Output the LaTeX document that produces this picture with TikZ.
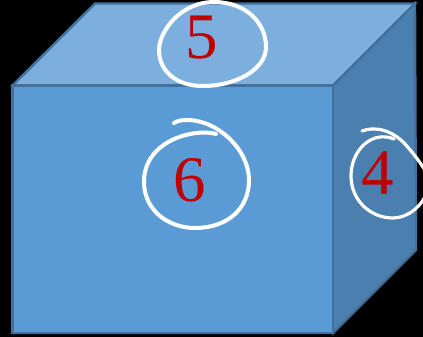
\documentclass[tikz,border=0pt]{standalone}
\usepackage{fontspec}
\setmainfont{Liberation Serif}
\definecolor{frontc}{HTML}{5B9BD5}
\definecolor{topc}{HTML}{7CAFDE}
\definecolor{sidec}{HTML}{4A7FAF}
\definecolor{edgec}{HTML}{41719C}
\definecolor{digitc}{HTML}{C00000}
\tikzset{
  face/.style={draw=edgec,line width=2.4pt,line join=miter},
  scribble/.style={draw=white,line width=4pt,line cap=round,line join=round},
  digit/.style={text=digitc,font=\fontsize{65}{65}\selectfont,inner sep=0pt}
}
\begin{document}
\begin{tikzpicture}[x=1pt,y=-1pt]
\useasboundingbox (0,0) rectangle (423,337);
\clip (0,0) rectangle (423,337);
\fill[black] (0,0) rectangle (423,337);
\draw[face,fill=topc] (12.5,85.5) -- (95,3.5) -- (415,3.5) -- (333,85.5) -- cycle;
\draw[face,fill=sidec] (333,85.5) -- (415,3.5) -- (416,250) -- (333,333) -- cycle;
\draw[face,fill=frontc] (12.5,85.5) rectangle (333,333);
\node[digit] (five) at (202,38) {5};
\node[digit] (six) at (190,180) {6};
\node[digit] (four) at (378,173.5) {4};
\draw[scribble] (214,2) .. controls (245,2) and (266,22) .. (266,47)
  .. controls (266,70) and (235,86) .. (203,86)
  .. controls (175,86) and (159,70) .. (159,50)
  .. controls (159,32) and (180,2) .. (214,2) -- cycle;
\draw[scribble] (216,134) .. controls (195,128) and (144,140) .. (144,182)
  .. controls (144,210) and (168,228) .. (195,228)
  .. controls (226,228) and (249,210) .. (249,180)
  .. controls (249,150) and (218,120) .. (187,120)
  .. controls (181,120) and (177,121) .. (174,123);
\draw[scribble,line width=3.2pt] (394,139) .. controls (372,130) and (351,150) .. (351,176)
  .. controls (351,200) and (370,218) .. (393,218)
  .. controls (405,218) and (418,210) .. (425,197);
\draw[scribble,line width=3.2pt] (362,131) .. controls (375,126) and (392,130) .. (405,144)
  .. controls (415,155) and (422,165) .. (428,175);
\end{tikzpicture}
\end{document}
